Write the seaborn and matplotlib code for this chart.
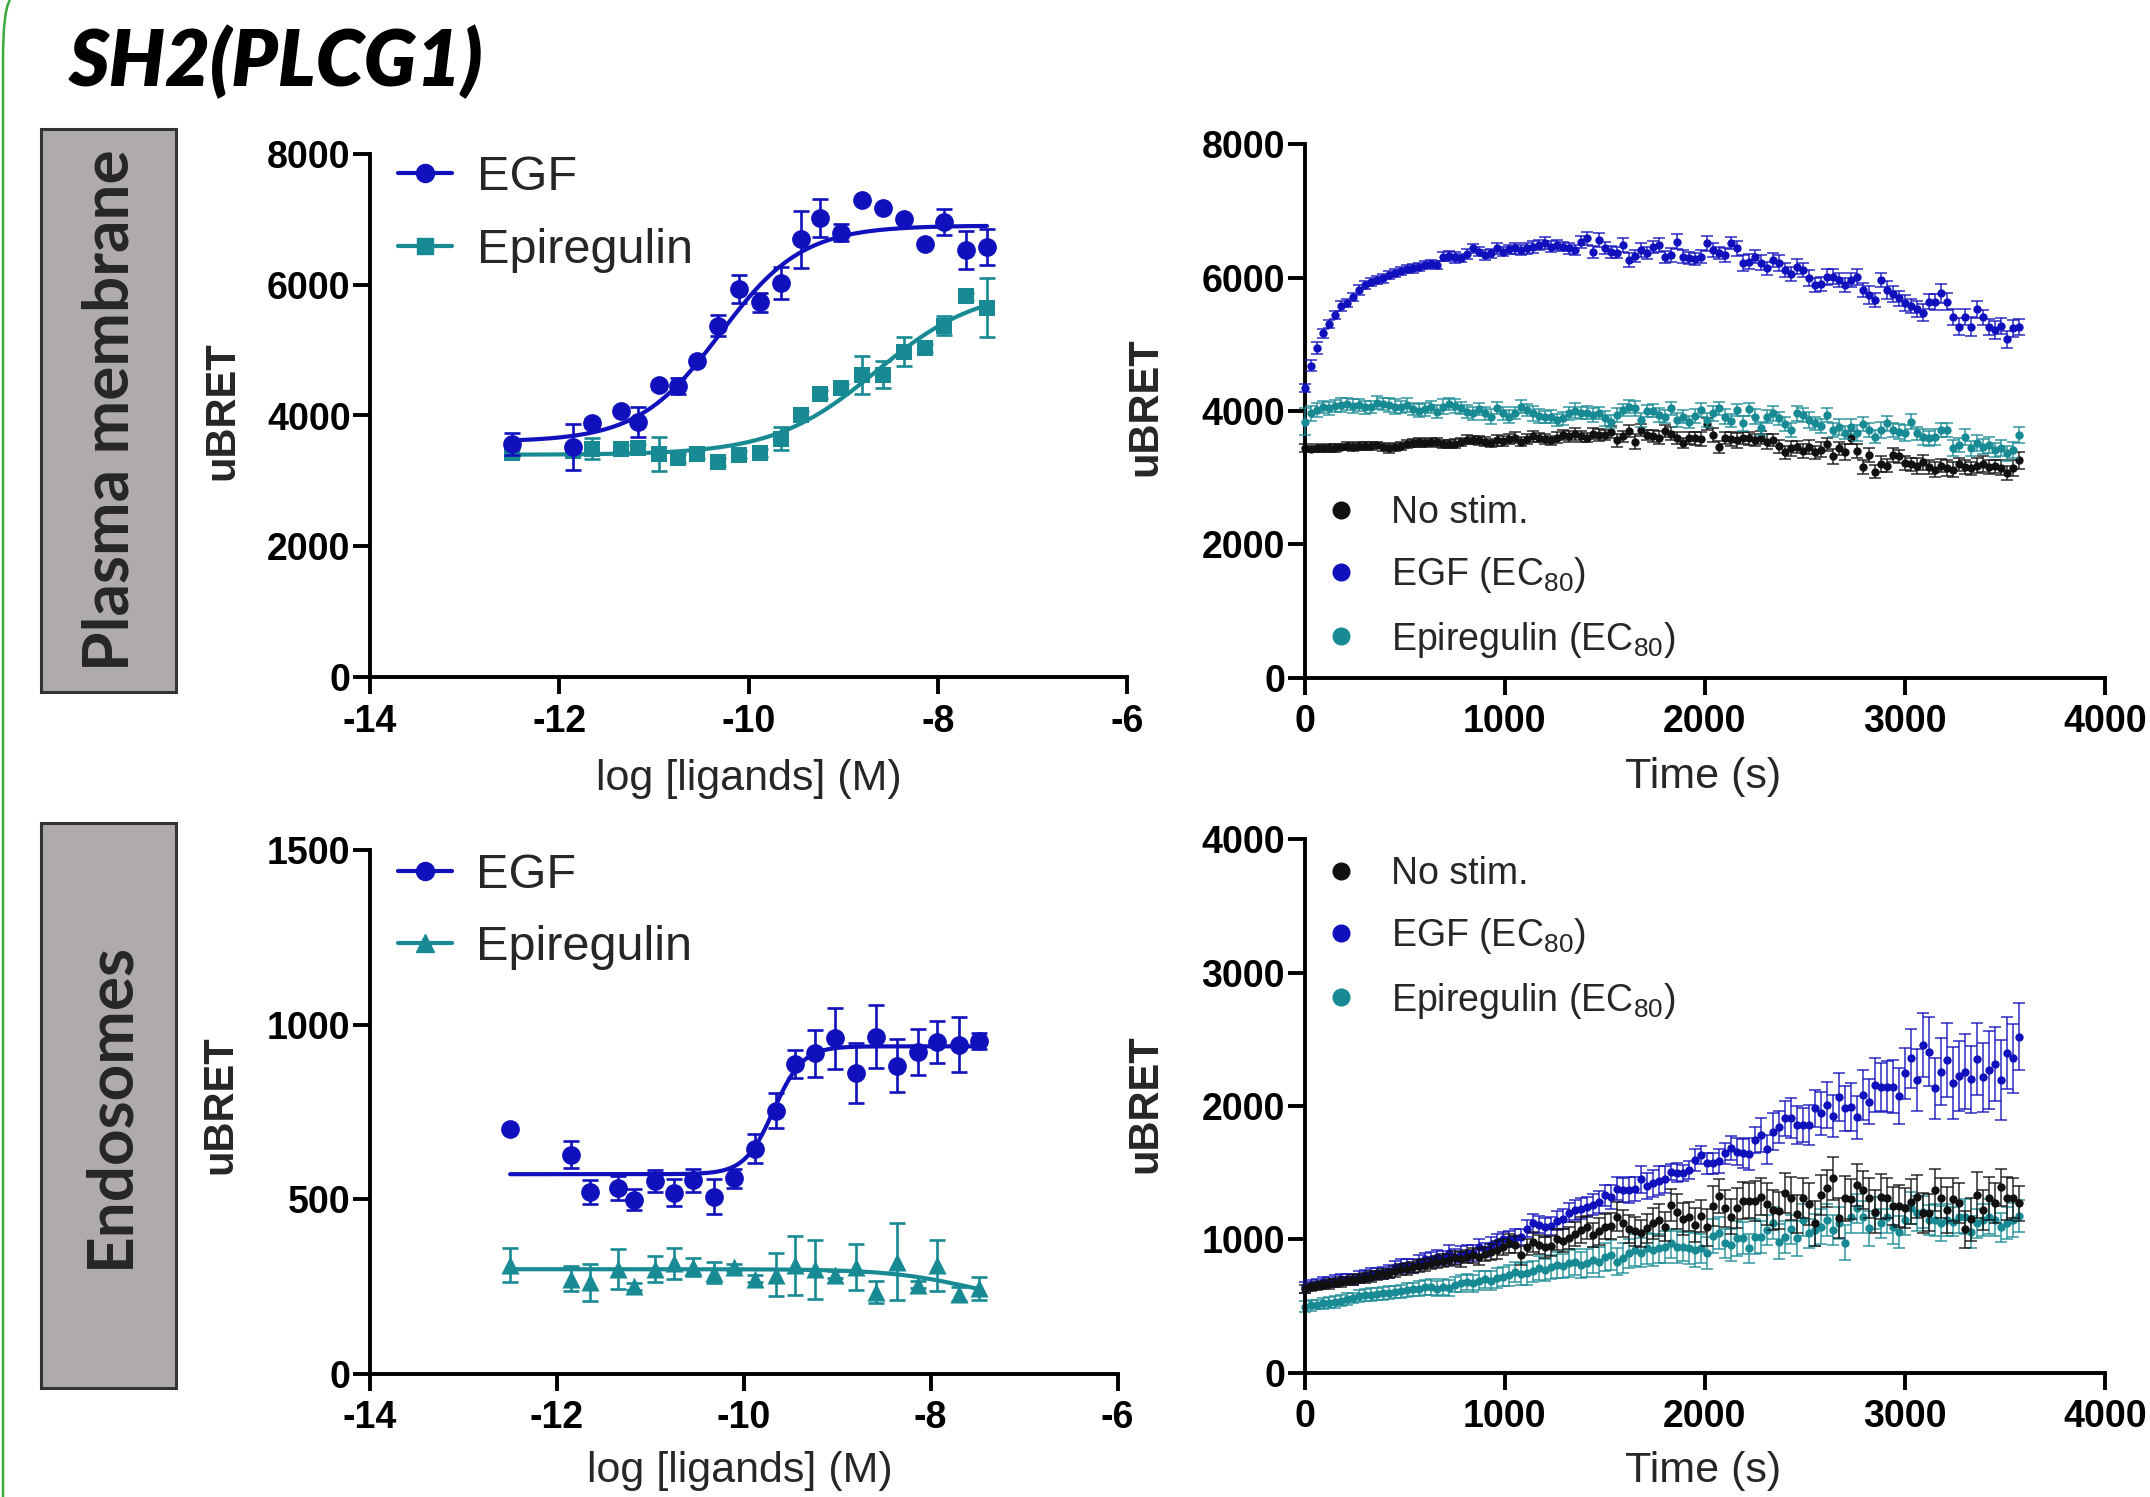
import numpy as np
import matplotlib
matplotlib.use("Agg")
import matplotlib.pyplot as plt
import seaborn as sns
from matplotlib.lines import Line2D
from matplotlib.patches import Rectangle, PathPatch
from matplotlib.path import Path

sns.set_style("ticks")
plt.rcParams['font.family'] = ['Liberation Sans', 'DejaVu Sans']
plt.rcParams['mathtext.default'] = 'regular'

# ---------------- data ----------------
TITLE = "SH2(PLCG1)"
ROW_LABELS = ["Plasma membrane", "Endosomes"]
DOSE_LEGEND = ["EGF", "Epiregulin"]
TIME_LEGEND = ["No stim.", "EGF (EC$_{80}$)", "Epiregulin (EC$_{80}$)"]

DOSE_XTICKS = [-14, -12, -10, -8, -6]
TIME_XTICKS = [0, 1000, 2000, 3000, 4000]
PM_YTICKS = [0, 2000, 4000, 6000, 8000]
ENDO_DOSE_YTICKS = [0, 500, 1000, 1500]
ENDO_TIME_YTICKS = [0, 1000, 2000, 3000, 4000]

log_conc = [-12.5, -11.85, -11.65, -11.35, -11.17, -10.95, -10.75, -10.54, -10.32, -10.10, -9.88,
            -9.66, -9.45, -9.24, -9.02, -8.80, -8.58, -8.36, -8.14, -7.93, -7.70, -7.48]

pm_egf = [3567, 3520, 3880, 4073, 3898, 4462, 4451, 4829, 5370, 5934, 5731,
          6022, 6691, 7011, 6790, 7284, 7168, 6999, 6615, 6953, 6528, 6574]
pm_egf_err = [170, 350, 60, 50, 230, 50, 120, 50, 160, 210, 145,
              250, 435, 290, 130, 0, 0, 50, 0, 195, 290, 270]
pm_epi = [3433, 3462, 3491, 3491, 3508, 3415, 3345, 3415, 3287, 3404, 3433,
          3648, 4014, 4334, 4422, 4625, 4625, 4974, 5033, 5370, 5818, 5643]
pm_epi_err = [60, 60, 160, 60, 60, 260, 60, 60, 60, 60, 60,
              175, 60, 60, 60, 290, 200, 220, 60, 145, 60, 450]

endo_egf = [701, 628, 521, 532, 499, 552, 519, 554, 508, 560, 645,
            754, 888, 918, 961, 861, 965, 883, 921, 950, 943, 953]
endo_egf_err = [0, 38, 33, 35, 30, 32, 38, 34, 49, 27, 41,
                50, 40, 67, 87, 86, 90, 76, 66, 61, 79, 22]
endo_epi = [311, 273, 262, 300, 251, 300, 317, 306, 290, 306, 273,
            284, 311, 300, 284, 306, 235, 322, 255, 311, 229, 246]
endo_epi_err = [49, 35, 53, 57, 10, 38, 45, 26, 30, 10, 10,
                62, 85, 85, 10, 65, 31, 109, 10, 73, 19, 33]

# fitted 4-parameter logistic curves: [bottom, top, logEC50, hill]
fit_pm_egf = [3600, 6900, -10.3, 1.0]
fit_pm_epi = [3400, 5950, -8.65, 0.8]
fit_endo_egf = [572, 938, -9.68, 2.8]
fit_endo_epi = [300, 200, -7.6, 1.0]
FIT_RANGE = [-12.5, -7.48]

TIME_STEP = 30  # s between reads

tc_pm_egf = [4340, 4680, 4940, 5165, 5305, 5440, 5575, 5615, 5715, 5815,
             5890, 5940, 5965, 5990, 6040, 6075, 6105, 6125, 6140, 6165,
             6190, 6205, 6190, 6315, 6325, 6305, 6290, 6355, 6440, 6390,
             6340, 6365, 6440, 6390, 6425, 6440, 6415, 6440, 6465, 6490,
             6515, 6465, 6490, 6465, 6440, 6415, 6540, 6590, 6390, 6565,
             6440, 6390, 6375, 6490, 6265, 6325, 6415, 6365, 6465, 6490,
             6315, 6340, 6540, 6315, 6290, 6275, 6315, 6515, 6415, 6365,
             6340, 6515, 6440, 6215, 6240, 6315, 6225, 6140, 6265, 6215,
             6115, 6055, 6165, 6115, 5990, 5890, 5905, 6005, 6015, 5965,
             5890, 5965, 6005, 5815, 5740, 5665, 5965, 5815, 5755, 5690,
             5615, 5575, 5525, 5475, 5640, 5640, 5765, 5640, 5405, 5265,
             5405, 5265, 5525, 5405, 5265, 5215, 5275, 5075, 5240, 5265]
tc_pm_egf_err = [60, 80, 90, 70, 60, 60, 70, 60, 60, 70,
                 60, 60, 60, 70, 60, 60, 60, 60, 70, 60,
                 60, 60, 60, 70, 70, 80, 60, 80, 70, 70,
                 80, 70, 80, 70, 70, 80, 70, 80, 90, 80,
                 90, 80, 80, 70, 80, 70, 90, 100, 90, 100,
                 90, 90, 80, 100, 110, 90, 100, 90, 90, 100,
                 90, 100, 110, 100, 90, 90, 100, 110, 100, 90,
                 100, 90, 110, 120, 110, 100, 110, 100, 110, 120,
                 110, 100, 110, 110, 120, 110, 100, 120, 110, 110,
                 100, 110, 120, 110, 130, 110, 110, 140, 120, 110,
                 120, 110, 120, 130, 110, 120, 140, 130, 120, 130,
                 120, 140, 130, 110, 120, 130, 120, 130, 130, 120]

tc_pm_epi = [3840, 3965, 4015, 4055, 4040, 4075, 4090, 4105, 4075, 4090,
             4055, 4065, 4125, 4105, 4090, 4065, 4055, 4090, 4025, 4005,
             4025, 4055, 3990, 4065, 4105, 4075, 4040, 3990, 3965, 4025,
             3965, 3915, 4040, 3965, 3915, 3965, 4065, 4015, 3965, 3925,
             3905, 3915, 3865, 3890, 3965, 4005, 3965, 3975, 3940, 3965,
             3890, 3840, 3940, 4015, 4065, 4040, 3865, 4005, 4005, 3940,
             3915, 4040, 3865, 3915, 3840, 3925, 4015, 3865, 3965, 4040,
             3915, 3855, 4015, 3815, 4025, 3915, 3740, 3915, 3965, 3890,
             3805, 3715, 3965, 3940, 3865, 3815, 3775, 3940, 3715, 3765,
             3675, 3765, 3665, 3805, 3715, 3615, 3715, 3815, 3715, 3690,
             3665, 3840, 3665, 3605, 3590, 3605, 3715, 3715, 3440, 3490,
             3605, 3440, 3515, 3465, 3490, 3415, 3440, 3365, 3415, 3640]
tc_pm_epi_err = [200, 110, 100, 90, 100, 90, 100, 90, 100, 90,
                 100, 90, 100, 90, 100, 110, 90, 100, 90, 100,
                 100, 90, 100, 110, 90, 100, 90, 100, 100, 90,
                 100, 110, 90, 100, 100, 90, 100, 90, 110, 100,
                 90, 100, 90, 100, 100, 110, 90, 100, 100, 90,
                 110, 100, 100, 90, 100, 110, 100, 90, 100, 110,
                 100, 100, 110, 100, 90, 110, 100, 100, 110, 100,
                 110, 100, 90, 110, 100, 110, 100, 100, 110, 100,
                 110, 100, 110, 100, 120, 100, 110, 100, 110, 120,
                 100, 110, 120, 100, 110, 100, 120, 110, 100, 110,
                 120, 110, 100, 120, 110, 120, 100, 110, 120, 110,
                 120, 110, 120, 110, 120, 110, 120, 110, 120, 120]

tc_pm_none = [3440, 3430, 3440, 3440, 3450, 3450, 3460, 3470, 3460, 3480,
              3470, 3480, 3490, 3460, 3440, 3460, 3480, 3500, 3520, 3530,
              3520, 3540, 3530, 3510, 3500, 3510, 3530, 3570, 3560, 3560,
              3540, 3520, 3560, 3550, 3580, 3600, 3540, 3580, 3620, 3600,
              3580, 3560, 3600, 3640, 3620, 3660, 3620, 3600, 3660, 3640,
              3640, 3680, 3560, 3620, 3700, 3540, 3720, 3640, 3620, 3600,
              3700, 3660, 3600, 3520, 3600, 3590, 3580, 3800, 3640, 3460,
              3600, 3580, 3560, 3600, 3590, 3570, 3600, 3540, 3560, 3470,
              3380, 3440, 3460, 3400, 3460, 3380, 3420, 3500, 3320, 3440,
              3380, 3600, 3400, 3160, 3340, 3090, 3200, 3180, 3340, 3320,
              3220, 3200, 3180, 3230, 3160, 3120, 3180, 3150, 3120, 3200,
              3160, 3140, 3180, 3200, 3160, 3170, 3150, 3070, 3140, 3260]
tc_pm_none_err = [60, 50, 60, 50, 60, 60, 50, 60, 60, 60,
                  60, 60, 50, 60, 70, 60, 60, 60, 60, 70,
                  60, 60, 70, 60, 60, 70, 60, 70, 60, 70,
                  70, 60, 80, 70, 70, 80, 70, 70, 80, 70,
                  80, 70, 80, 70, 80, 90, 80, 70, 80, 90,
                  80, 90, 100, 80, 90, 110, 90, 80, 90, 100,
                  90, 100, 90, 80, 90, 100, 110, 90, 100, 90,
                  90, 100, 110, 90, 100, 90, 100, 110, 90, 100,
                  100, 110, 90, 100, 110, 100, 110, 100, 110, 100,
                  120, 100, 110, 100, 110, 100, 120, 100, 110, 100,
                  110, 100, 120, 110, 100, 110, 100, 120, 110, 100,
                  110, 100, 110, 120, 110, 100, 110, 100, 120, 130]

tc_endo_egf = [640, 660, 665, 680, 680, 690, 700, 705, 700, 720,
               730, 740, 745, 750, 760, 790, 800, 810, 800, 830,
               850, 850, 870, 860, 900, 870, 890, 900, 900, 940,
               920, 960, 980, 1000, 1000, 1010, 1020, 1080, 1120, 1110,
               1090, 1100, 1140, 1150, 1200, 1220, 1230, 1240, 1260, 1280,
               1330, 1320, 1380, 1370, 1370, 1380, 1450, 1400, 1420, 1440,
               1450, 1507, 1500, 1495, 1520, 1595, 1632, 1570, 1570, 1590,
               1645, 1682, 1657, 1645, 1640, 1745, 1782, 1675, 1807, 1845,
               1907, 1907, 1857, 1857, 1857, 1982, 1945, 2007, 1925, 2070,
               1982, 1990, 1915, 2082, 2032, 2157, 2140, 2145, 2145, 2075,
               2245, 2357, 2195, 2457, 2407, 2132, 2257, 2345, 2170, 2225,
               2257, 2200, 2350, 2215, 2270, 2315, 2195, 2400, 2357, 2520]
tc_endo_egf_err = [40, 35, 35, 40, 35, 40, 40, 35, 40, 45,
                   40, 45, 40, 45, 50, 45, 50, 45, 50, 55,
                   50, 55, 50, 55, 60, 55, 60, 55, 60, 60,
                   55, 60, 60, 55, 60, 65, 60, 65, 70, 65,
                   70, 65, 70, 75, 70, 75, 80, 75, 80, 85,
                   80, 90, 85, 90, 95, 90, 100, 95, 100, 110,
                   100, 60, 70, 60, 70, 80, 70, 80, 80, 90,
                   80, 90, 100, 110, 120, 100, 130, 110, 140, 120,
                   130, 150, 140, 130, 150, 140, 160, 170, 160, 180,
                   170, 180, 160, 190, 170, 200, 180, 190, 200, 210,
                   190, 220, 230, 240, 260, 230, 250, 280, 270, 260,
                   280, 250, 270, 260, 290, 280, 300, 270, 260, 250]

tc_endo_none = [630, 640, 650, 655, 665, 670, 680, 690, 695, 705,
                710, 720, 730, 740, 745, 760, 775, 780, 790, 800,
                810, 820, 830, 840, 845, 860, 850, 870, 880, 870,
                890, 905, 920, 940, 970, 960, 880, 940, 980, 960,
                940, 950, 1000, 990, 1010, 1040, 1070, 1090, 1030, 1060,
                1095, 1100, 1170, 1120, 1080, 1060, 1045, 1082, 1120, 1145,
                1095, 1257, 1207, 1150, 1170, 1107, 1175, 1090, 1250, 1325,
                1232, 1170, 1232, 1290, 1290, 1290, 1320, 1265, 1220, 1215,
                1350, 1307, 1190, 1307, 1265, 1120, 1332, 1382, 1457, 1157,
                1307, 1300, 1407, 1370, 1307, 1207, 1320, 1307, 1250, 1250,
                1232, 1282, 1320, 1195, 1200, 1370, 1307, 1220, 1300, 1270,
                1075, 1150, 1332, 1220, 1307, 1270, 1390, 1307, 1307, 1270]
tc_endo_none_err = [30, 30, 30, 30, 35, 30, 35, 30, 35, 35,
                    35, 40, 35, 40, 35, 40, 40, 45, 40, 45,
                    45, 40, 45, 50, 45, 50, 55, 50, 55, 60,
                    55, 60, 65, 60, 70, 65, 70, 60, 75, 70,
                    80, 75, 80, 85, 80, 90, 95, 85, 90, 100,
                    95, 100, 110, 100, 105, 110, 100, 110, 115, 120,
                    110, 120, 130, 120, 110, 130, 120, 140, 150, 130,
                    140, 130, 150, 140, 130, 150, 140, 160, 150, 140,
                    150, 160, 140, 150, 160, 170, 150, 140, 160, 150,
                    170, 150, 160, 140, 150, 160, 170, 150, 140, 160,
                    150, 170, 160, 150, 140, 160, 150, 170, 160, 150,
                    140, 160, 170, 150, 160, 150, 140, 160, 150, 130]

tc_endo_epi = [495, 505, 510, 520, 525, 530, 540, 550, 560, 575,
               580, 585, 590, 595, 600, 605, 610, 620, 625, 630,
               640, 645, 630, 640, 632, 660, 670, 682, 670, 690,
               700, 690, 710, 720, 730, 757, 740, 745, 760, 782,
               770, 790, 807, 800, 820, 830, 807, 825, 845, 830,
               870, 882, 832, 860, 895, 920, 900, 932, 920, 932,
               945, 970, 945, 945, 932, 920, 932, 895, 1025, 1045,
               970, 957, 1007, 1007, 932, 1020, 1020, 1070, 1120, 982,
               1020, 1075, 1007, 1145, 1045, 1070, 1095, 1145, 1070, 1120,
               975, 1170, 1232, 1170, 1082, 1195, 1120, 1170, 1095, 1057,
               1145, 1232, 1195, 1207, 1145, 1145, 1120, 1145, 1132, 1170,
               1170, 1057, 1120, 1145, 1170, 1145, 1090, 1120, 1145, 1175]
tc_endo_epi_err = [40, 40, 35, 40, 40, 45, 40, 45, 40, 45,
                   45, 50, 45, 50, 50, 45, 50, 55, 50, 55,
                   55, 60, 55, 60, 60, 55, 65, 60, 65, 70,
                   65, 70, 75, 70, 80, 75, 80, 85, 80, 90,
                   85, 90, 95, 90, 100, 95, 100, 105, 100, 110,
                   105, 110, 100, 115, 110, 120, 110, 115, 120, 110,
                   120, 110, 120, 110, 120, 130, 110, 120, 130, 120,
                   110, 120, 130, 120, 110, 130, 120, 110, 120, 130,
                   120, 110, 130, 120, 110, 120, 130, 120, 110, 120,
                   130, 120, 110, 120, 130, 120, 110, 120, 130, 120,
                   110, 120, 130, 120, 110, 120, 130, 120, 110, 120,
                   130, 120, 110, 120, 130, 120, 110, 120, 130, 120]

# ---------------- styling ----------------
BLUE = '#1010BC'
TEAL = '#188A94'
BLACK = '#111111'

W, H = 2150, 1497
fig = plt.figure(figsize=(W / 100, H / 100), dpi=100)


def px_rect(x0, y_top, x1, y_bottom):
    return [x0 / W, 1 - y_bottom / H, (x1 - x0) / W, (y_bottom - y_top) / H]


ax_tl = fig.add_axes(px_rect(370, 153.6, 1127, 677.4))
ax_tr = fig.add_axes(px_rect(1304.5, 144.4, 2105, 677.7))
ax_bl = fig.add_axes(px_rect(370, 850, 1117.5, 1374))
ax_br = fig.add_axes(px_rect(1304.5, 839.3, 2105, 1372.7))


def four_pl(x, p):
    bottom, top, logec50, hill = p
    return bottom + (top - bottom) / (1 + 10 ** ((logec50 - x) * hill))


def dose_panel(ax, y1, e1, f1, y2, e2, f2, marker2, ms2):
    xc = np.linspace(FIT_RANGE[0], FIT_RANGE[1], 300)
    # epiregulin (below)
    sns.lineplot(x=xc, y=four_pl(xc, f2), ax=ax, color=TEAL, lw=3.0, zorder=2)
    ax.errorbar(log_conc, y2, yerr=e2, fmt='none', ecolor=TEAL, elinewidth=1.9,
                capsize=6, capthick=1.9, zorder=2)
    sns.scatterplot(x=log_conc, y=y2, ax=ax, color=TEAL, marker=marker2, s=ms2 ** 2,
                    linewidth=0, zorder=3)
    # EGF (on top)
    sns.lineplot(x=xc, y=four_pl(xc, f1), ax=ax, color=BLUE, lw=3.0, zorder=4)
    ax.errorbar(log_conc, y1, yerr=e1, fmt='none', ecolor=BLUE, elinewidth=1.9,
                capsize=6, capthick=1.9, zorder=4)
    sns.scatterplot(x=log_conc, y=y1, ax=ax, color=BLUE, marker='o', s=13.5 ** 2,
                    linewidth=0, zorder=5)
    handles = [Line2D([0], [0], color=BLUE, lw=3.0, marker='o', markersize=13),
               Line2D([0], [0], color=TEAL, lw=3.0, marker=marker2, markersize=ms2)]
    return handles


def time_panel(ax, series):
    for vals, errs, col, z in series:
        t = np.arange(len(vals)) * TIME_STEP
        ax.errorbar(t, vals, yerr=errs, fmt='none', ecolor=col, elinewidth=1.3,
                    capsize=4, capthick=1.3, alpha=0.75, zorder=z, clip_on=False)
        sns.scatterplot(x=t, y=vals, ax=ax, color=col, s=36, linewidth=0,
                        zorder=z + 0.5, clip_on=False)


def style(ax, xlim, ylim, xticks, yticks, xlabel):
    ax.set_xlim(xlim)
    ax.set_ylim(ylim)
    ax.set_xticks(xticks)
    ax.set_xticklabels([str(v) for v in xticks], fontweight='bold', fontsize=27)
    ax.set_yticks(yticks)
    ax.set_yticklabels([str(v) for v in yticks], fontweight='bold', fontsize=27)
    for s in ['top', 'right']:
        ax.spines[s].set_visible(False)
    for s in ['left', 'bottom']:
        ax.spines[s].set_linewidth(2.8)
        ax.spines[s].set_color('black')
    ax.tick_params(axis='both', width=2.8, length=12, color='black', labelcolor='black')
    ax.tick_params(axis='y', pad=2)
    ax.tick_params(axis='x', pad=7)
    ax.set_facecolor('none')
    ax.set_ylabel('uBRET', fontsize=30, fontweight='bold')
    ax.set_xlabel(xlabel, fontsize=31)


# top-left: plasma membrane dose response
h_tl = dose_panel(ax_tl, pm_egf, pm_egf_err, fit_pm_egf, pm_epi, pm_epi_err, fit_pm_epi, 's', 12)
style(ax_tl, (-14, -6), (0, 8000), DOSE_XTICKS, PM_YTICKS, 'log [ligands] (M)')
ax_tl.yaxis.set_label_coords(-0.168, 0.51)
ax_tl.xaxis.set_label_coords(0.5, -0.155)
ax_tl.legend(h_tl, DOSE_LEGEND, loc='upper left', bbox_to_anchor=(0.037, 0.998), frameon=False,
             fontsize=35, handlelength=1.11, handletextpad=0.51, borderpad=0, borderaxespad=0,
             labelspacing=0.59)

# bottom-left: endosome dose response
h_bl = dose_panel(ax_bl, endo_egf, endo_egf_err, fit_endo_egf, endo_epi, endo_epi_err, fit_endo_epi, '^', 13)
style(ax_bl, (-14, -6), (0, 1500), DOSE_XTICKS, ENDO_DOSE_YTICKS, 'log [ligands] (M)')
ax_bl.yaxis.set_label_coords(-0.174, 0.515)
ax_bl.xaxis.set_label_coords(0.495, -0.147)
ax_bl.legend(h_bl, DOSE_LEGEND, loc='upper left', bbox_to_anchor=(0.037, 0.994), frameon=False,
             fontsize=35, handlelength=1.11, handletextpad=0.51, borderpad=0, borderaxespad=0,
             labelspacing=0.55)

# top-right: plasma membrane kinetics
time_panel(ax_tr, [(tc_pm_none, tc_pm_none_err, BLACK, 2),
                   (tc_pm_epi, tc_pm_epi_err, TEAL, 3),
                   (tc_pm_egf, tc_pm_egf_err, BLUE, 4)])
style(ax_tr, (0, 4000), (0, 8000), TIME_XTICKS, PM_YTICKS, 'Time (s)')
ax_tr.yaxis.set_label_coords(-0.174, 0.508)
ax_tr.xaxis.set_label_coords(0.498, -0.149)

# bottom-right: endosome kinetics
time_panel(ax_br, [(tc_endo_epi, tc_endo_epi_err, TEAL, 2),
                   (tc_endo_egf, tc_endo_egf_err, BLUE, 3),
                   (tc_endo_none, tc_endo_none_err, BLACK, 4)])
style(ax_br, (0, 4000), (0, 4000), TIME_XTICKS, ENDO_TIME_YTICKS, 'Time (s)')
ax_br.yaxis.set_label_coords(-0.174, 0.504)
ax_br.xaxis.set_label_coords(0.498, -0.147)

t_handles = [Line2D([0], [0], linestyle='none', marker='o', markersize=12, color=c)
             for c in (BLACK, BLUE, TEAL)]
for ax, top in ((ax_tr, 0.343), (ax_br, 0.969)):
    ax.legend(t_handles, TIME_LEGEND, loc='upper left', bbox_to_anchor=(0.022, top), frameon=False,
              fontsize=27, handlelength=1.0, handletextpad=0.85, borderpad=0, borderaxespad=0,
              labelspacing=0.65)

# row label boxes
for (y_top, y_bot), label in zip(((129, 692), (823, 1388)), ROW_LABELS):
    fig.patches.append(Rectangle((41 / W, 1 - y_bot / H), 135 / W, (y_bot - y_top) / H,
                                 transform=fig.transFigure, facecolor='#AFABAB',
                                 edgecolor='#333333', linewidth=2.2, zorder=1))
    fig.text(110 / W, 1 - (y_top + y_bot) / 2 / H, label, rotation=90, ha='center', va='center',
             fontsize=46, fontweight='bold', family=['Lato', 'DejaVu Sans'], zorder=2)

# title
fig.text(69 / W, 1 - 62 / H, TITLE, fontsize=56, fontweight='heavy', style='italic',
         family=['Lato', 'DejaVu Sans'], ha='left', va='center', color='black')

# green frame edge
verts = [(3 / W, 0), (3 / W, 1 - 60 / H), (3 / W, 1 - 10 / H), (10 / W, 1)]
codes = [Path.MOVETO, Path.LINETO, Path.CURVE3, Path.CURVE3]
fig.patches.append(PathPatch(Path(verts, codes), transform=fig.transFigure, facecolor='none',
                             edgecolor='#3DAA3D', linewidth=1.8))

fig.savefig('out.png', dpi=100)
